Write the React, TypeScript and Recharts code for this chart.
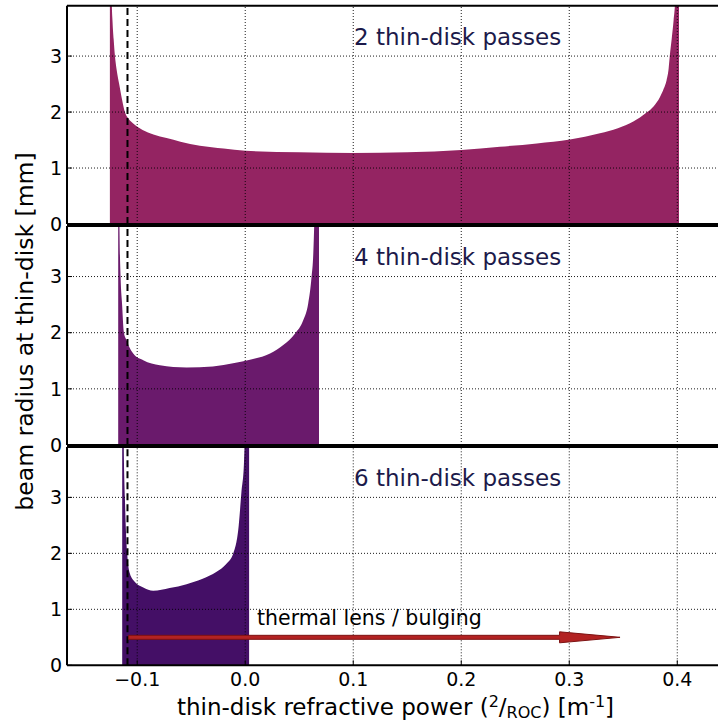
import React from 'react';
import { AreaChart, Area, XAxis, YAxis, ReferenceLine } from 'recharts';

// ---- data ----
const xTicks = [-0.1, 0, 0.1, 0.2, 0.3, 0.4];
const yTicks = [0, 1, 2, 3];
const yGrid = [1, 2, 3];
const xDomain: [number, number] = [-0.165, 0.4377];
const yDomain: [number, number] = [0, 3.9];

const passes2X = [-0.1253, -0.1236, -0.1228, -0.1218, -0.1206, -0.119, -0.1167, -0.114, -0.1114, -0.108, -0.104, -0.095, -0.085, -0.0728, -0.06, -0.042, -0.02, 0.0, 0.05, 0.1, 0.15, 0.2, 0.2358, 0.27, 0.3006, 0.3284, 0.345, 0.3593, 0.3716, 0.378, 0.384, 0.3875, 0.3901, 0.392, 0.393, 0.3948, 0.3966, 0.398, 0.4016];
const passes2Y = [8, 4.0, 3.6, 3.3, 3.0, 2.75, 2.5, 2.22, 2.0, 1.88, 1.8, 1.68, 1.6, 1.535, 1.47, 1.4, 1.35, 1.31, 1.28, 1.27, 1.28, 1.32, 1.38, 1.44, 1.51, 1.62, 1.71, 1.83, 1.99, 2.1, 2.27, 2.42, 2.57, 2.78, 2.99, 3.3, 3.64, 4.0, 8];

const passes4X = [-0.1176, -0.1165, -0.1154, -0.114, -0.1123, -0.1098, -0.107, -0.1037, -0.0944, -0.079, -0.0543, -0.03, -0.01, 0.0044, 0.023, 0.0352, 0.046, 0.0537, 0.0583, 0.0614, 0.063, 0.064, 0.0683];
const passes4Y = [8, 4.0, 3.0, 2.5, 2.0, 1.865, 1.73, 1.63, 1.51, 1.42, 1.38, 1.4, 1.46, 1.52, 1.63, 1.78, 1.98, 2.22, 2.52, 2.99, 3.4, 4.0, 8];

const passes6X = [-0.1139, -0.1125, -0.1114, -0.1093, -0.1068, -0.1021, -0.0944, -0.0852, -0.07, -0.0543, -0.04, -0.0265, -0.018, -0.011, -0.006, -0.0035, -0.0012, -0.0005, 0.0036];
const passes6Y = [8, 4.0, 3.0, 2.0, 1.64, 1.49, 1.39, 1.33, 1.38, 1.45, 1.54, 1.67, 1.8, 2.0, 2.5, 3.1, 3.6, 4.0, 8];

const panelLabels = ['2 thin-disk passes', '4 thin-disk passes', '6 thin-disk passes'];
const fillColors = ['#942462', '#6a1a6c', '#440f66'];

const stableLimitX = -0.109;
const arrowStartX = -0.108;
const arrowHeadX = 0.291;
const arrowTipX = 0.347;
const arrowY = 0.5;
const arrowText = 'thermal lens / bulging';

const zip = (xs: number[], ys: number[]) => xs.map((x, i) => ({ x, y: ys[i] }));
const panelData = [zip(passes2X, passes2Y), zip(passes4X, passes4Y), zip(passes6X, passes6Y)];

const FONT = 'DejaVu Sans';
const fmtX = (v: number) => (v < 0 ? '\u2212' + Math.abs(v).toFixed(1) : v.toFixed(1));

const ArrowShape = (props: any) => {
  const { x1, y1, x2 } = props;
  if (x1 == null || x2 == null) return null;
  const frac = (arrowHeadX - arrowStartX) / (arrowTipX - arrowStartX);
  const hx = x1 + (x2 - x1) * frac;
  const y = y1;
  const pts = [
    [x1, y - 2], [hx, y - 2], [hx, y - 5.5], [x2, y], [hx, y + 5.5], [hx, y + 2], [x1, y + 2],
  ].map((p) => p.join(',')).join(' ');
  return <polygon points={pts} fill="#b22222" stroke="#7d1212" strokeWidth={1} strokeLinejoin="miter" />;
};

type PanelProps = {
  idx: number;
  top: number;
  height: number;
  mTop: number;
  mBottom: number;
  showX: boolean;
};

function Panel({ idx, top, height, mTop, mBottom, showX }: PanelProps) {
  const data = panelData[idx];
  return (
    <div style={{ position: 'absolute', left: 0, top, width: 718, height }}>
      <AreaChart
        width={718}
        height={height}
        data={data}
        margin={{ top: mTop, right: 0, bottom: mBottom, left: 0 }}
        style={{ overflow: 'visible' }}
      >
        <XAxis
          dataKey="x"
          type="number"
          domain={xDomain}
          allowDataOverflow
          ticks={xTicks}
          interval={0}
          tickFormatter={fmtX}
          tick={showX ? { fontFamily: FONT, fontSize: 19, fill: '#000' } : false}
          tickSize={-5}
          tickMargin={showX ? 12 : 0}
          height={showX ? 30 : 1}
          axisLine={{ stroke: '#000', strokeWidth: 2 }}
          tickLine={{ stroke: '#000', strokeWidth: 1 }}
        />
        <XAxis
          xAxisId="top"
          orientation="top"
          dataKey="x"
          type="number"
          domain={xDomain}
          allowDataOverflow
          ticks={xTicks}
          interval={0}
          tick={false}
          tickSize={-5}
          height={1}
          axisLine={{ stroke: '#000', strokeWidth: 2 }}
          tickLine={{ stroke: '#000', strokeWidth: 1 }}
        />
        <YAxis
          type="number"
          domain={yDomain}
          allowDataOverflow
          ticks={yTicks}
          interval={0}
          width={67}
          tickSize={-5}
          tickMargin={10}
          tick={{ fontFamily: FONT, fontSize: 19, fill: '#000' }}
          axisLine={{ stroke: '#000', strokeWidth: 2 }}
          tickLine={{ stroke: '#000', strokeWidth: 1 }}
        />
        <Area
          type="monotoneX"
          dataKey="y"
          stroke="none"
          fill={fillColors[idx]}
          fillOpacity={1}
          isAnimationActive={false}
        />
        {xTicks.map((v) => (
          <ReferenceLine key={'gx' + v} x={v} stroke="#000" strokeWidth={0.9} strokeDasharray="1 2" />
        ))}
        {yGrid.map((v) => (
          <ReferenceLine key={'gy' + v} y={v} stroke="#000" strokeWidth={0.9} strokeDasharray="1 2" />
        ))}
        <ReferenceLine x={stableLimitX} stroke="#000" strokeWidth={2} strokeDasharray="7 4" />
        {showX && (
          <ReferenceLine
            segment={[{ x: arrowStartX, y: arrowY }, { x: arrowTipX, y: arrowY }]}
            shape={ArrowShape}
          />
        )}
      </AreaChart>
    </div>
  );
}

export default function App() {
  return (
    <div style={{ position: 'fixed', left: 0, top: 0, width: 718, height: 722, background: '#fff', overflow: 'hidden' }}>
      <Panel idx={0} top={0} height={240} mTop={4.7} mBottom={15} showX={false} />
      <Panel idx={1} top={220} height={240} mTop={5} mBottom={14} showX={false} />
      <Panel idx={2} top={441} height={281} mTop={5} mBottom={26.7} showX={true} />
      <svg width={718} height={722} style={{ position: 'absolute', left: 0, top: 0, pointerEvents: 'none' }}>
        <g fontFamily={FONT} fill="#1c1a4a" fontSize={23}>
          <text x={354} y={45}>{panelLabels[0]}</text>
          <text x={354} y={265}>{panelLabels[1]}</text>
          <text x={354} y={486}>{panelLabels[2]}</text>
        </g>
        <text x={257} y={625} fontFamily={FONT} fontSize={20.5} fill="#000">{arrowText}</text>
        <text x={395.5} y={715} textAnchor="middle" fontFamily={FONT} fontSize={23} fill="#000">
          thin-disk refractive power (
          <tspan fontSize={16} dy={-8}>2</tspan>
          <tspan dy={8}>/</tspan>
          <tspan fontSize={16} dy={3}>ROC</tspan>
          <tspan dy={-3}>) [m</tspan>
          <tspan fontSize={16} dy={-8}>-1</tspan>
          <tspan dy={8}>]</tspan>
        </text>
        <text
          x={0}
          y={0}
          transform="translate(33,331.5) rotate(-90)"
          textAnchor="middle"
          fontFamily={FONT}
          fontSize={23.5}
          fill="#000"
        >
          beam radius at thin-disk [mm]
        </text>
      </svg>
    </div>
  );
}
